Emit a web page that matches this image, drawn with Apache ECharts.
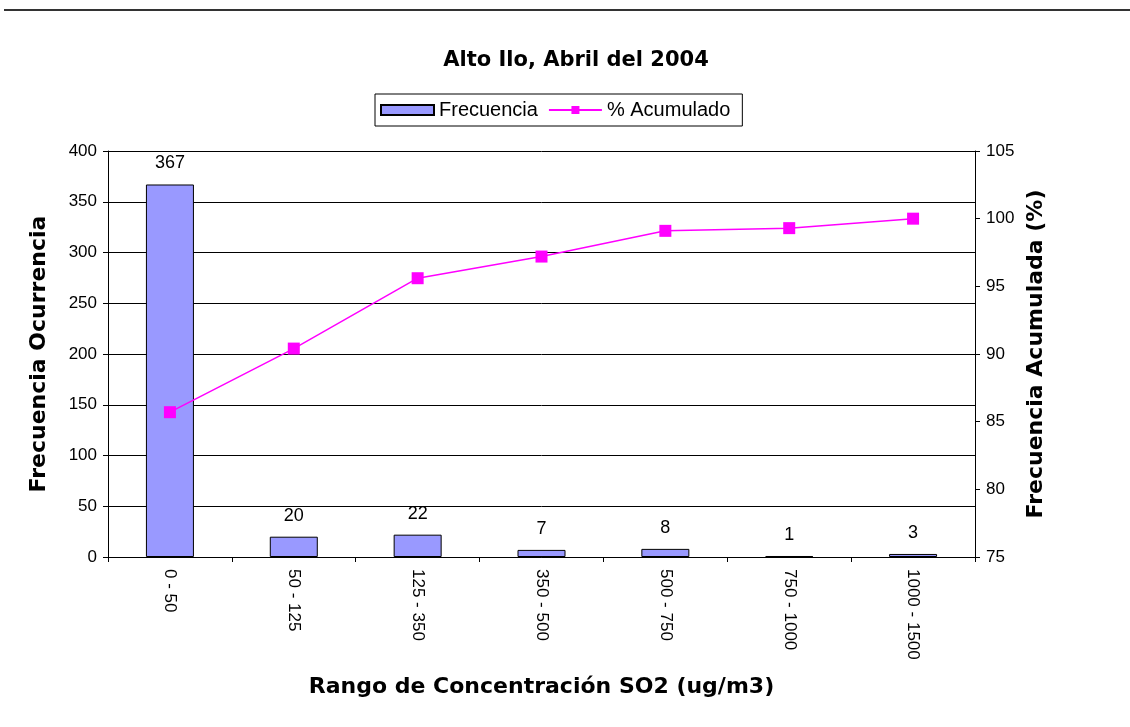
<!DOCTYPE html>
<html>
<head>
<meta charset="utf-8">
<script src="https://cdn.jsdelivr.net/npm/echarts@6/dist/echarts.min.js"></script>
<style>
  html, body { margin: 0; padding: 0; background: #fff; }
  #chart { width: 1130px; height: 727px; }
</style>
</head>
<body>
<div id="chart"></div>
<script>
  // rangos de concentracion
  const categories = ['0 - 50', '50 - 125', '125 - 350', '350 - 500', '500 - 750', '750 - 1000', '1000 - 1500'];
  const frecuencia = [367, 20, 22, 7, 8, 1, 3];
  const acumulado = [85.7, 90.4, 95.6, 97.2, 99.1, 99.3, 100];

  const fontFamily = '"Liberation Sans", Arial, sans-serif';
  const boldFamily = '"DejaVu Sans", Verdana, sans-serif';

  const chart = echarts.init(document.getElementById('chart'));
  chart.setOption({
    backgroundColor: '#fff',
    animation: false,
    textStyle: { fontFamily: fontFamily, color: '#000' },
    graphic: [
      {
        type: 'line',
        shape: { x1: 4, y1: 10, x2: 1130, y2: 10 },
        style: { stroke: '#333', lineWidth: 2 }
      }
    ],
    title: {
      text: 'Alto Ilo, Abril del 2004',
      left: 571,
      textAlign: 'center',
      top: 45,
      textStyle: { fontSize: 21, fontWeight: 'bold', color: '#000', fontFamily: boldFamily }
    },
    legend: {
      left: 375,
      top: 94,
      padding: [6, 12, 6, 5],
      itemGap: 10,
      itemWidth: 53,
      itemHeight: 10,
      borderColor: '#000',
      borderWidth: 1,
      borderRadius: 0,
      textStyle: { fontSize: 20, color: '#000', fontFamily: fontFamily },
      data: [
        { name: 'Frecuencia', icon: 'rect' },
        { name: '% Acumulado' }
      ]
    },
    grid: { left: 108, right: 155, top: 151, bottom: 170 },
    xAxis: {
      type: 'category',
      data: categories,
      boundaryGap: true,
      name: 'Rango de Concentración SO2 (ug/m3)',
      nameLocation: 'middle',
      nameGap: 119,
      nameTextStyle: { fontSize: 22, fontWeight: 'bold', color: '#000', fontFamily: boldFamily },
      axisLine: { lineStyle: { color: '#000', width: 1 } },
      axisTick: { show: true, length: 5, lineStyle: { color: '#000' } },
      axisLabel: { rotate: -90, fontSize: 17, color: '#000', margin: 12 }
    },
    yAxis: [
      {
        type: 'value',
        min: 0,
        max: 400,
        interval: 50,
        name: 'Frecuencia Ocurrencia',
        nameLocation: 'middle',
        nameGap: 58,
        nameTextStyle: { fontSize: 22, fontWeight: 'bold', color: '#000', fontFamily: boldFamily },
        axisLine: { show: true, lineStyle: { color: '#000' } },
        axisTick: { show: true, length: 5, lineStyle: { color: '#000' } },
        axisLabel: { fontSize: 17, color: '#000', margin: 11 },
        splitLine: { show: true, lineStyle: { color: '#000', width: 1 } }
      },
      {
        type: 'value',
        min: 75,
        max: 105,
        interval: 5,
        name: 'Frecuencia Acumulada (%)',
        nameLocation: 'middle',
        nameGap: 47,
        nameRotate: 90,
        nameTextStyle: { fontSize: 22, fontWeight: 'bold', color: '#000', fontFamily: boldFamily },
        axisLine: { show: true, lineStyle: { color: '#000' } },
        axisTick: { show: true, length: 5, lineStyle: { color: '#000' } },
        axisLabel: { fontSize: 17, color: '#000', margin: 11 },
        splitLine: { show: false }
      }
    ],
    series: [
      {
        name: 'Frecuencia',
        type: 'bar',
        data: frecuencia,
        yAxisIndex: 0,
        barWidth: 48,
        itemStyle: { color: '#9999FF', borderColor: '#000', borderWidth: 1 },
        label: {
          show: true,
          position: 'top',
          distance: 12,
          fontSize: 18,
          color: '#000',
          fontFamily: fontFamily
        }
      },
      {
        name: '% Acumulado',
        type: 'line',
        data: acumulado,
        yAxisIndex: 1,
        symbol: 'rect',
        symbolSize: 12,
        lineStyle: { color: '#FF00FF', width: 1.5 },
        itemStyle: { color: '#FF00FF' }
      }
    ]
  });
</script>
</body>
</html>
